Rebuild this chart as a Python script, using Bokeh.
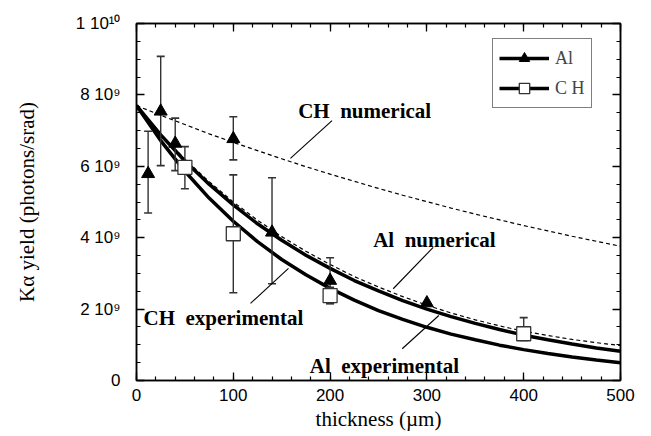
from bokeh.plotting import figure
from bokeh.models import (Range1d, LinearAxis, SingleIntervalTicker, FixedTicker,
                          Legend, LegendItem, ColumnDataSource, CustomLabelingPolicy)
from bokeh.core.properties import value
from bokeh.embed import file_html
from bokeh.resources import INLINE

# ---------------- data (yield in units of 1e9 photons/srad) ----------------
curve_x = [0, 25, 50, 75, 100, 125, 150, 175, 200, 225, 250,
           275, 300, 325, 350, 375, 400, 425, 450, 475, 500]
al_experimental = [7.70, 6.88, 6.15, 5.50, 4.92, 4.39, 3.93, 3.51, 3.14, 2.80, 2.51,
                   2.24, 2.00, 1.79, 1.60, 1.43, 1.27, 1.14, 1.02, 0.91, 0.82]
ch_experimental = [7.70, 6.72, 5.86, 5.11, 4.46, 3.89, 3.39, 2.96, 2.58, 2.25, 1.96,
                   1.71, 1.49, 1.30, 1.14, 0.99, 0.865, 0.755, 0.66, 0.575, 0.50]
al_numerical = [7.70, 6.91, 6.20, 5.57, 5.00, 4.49, 4.03, 3.62, 3.25, 2.91, 2.62,
                2.35, 2.11, 1.89, 1.70, 1.53, 1.38, 1.26, 1.15, 1.06, 0.98]
ch_numerical = [7.70, 7.43, 7.17, 6.91, 6.67, 6.44, 6.21, 5.99, 5.78, 5.58, 5.38,
                5.19, 5.01, 4.83, 4.66, 4.50, 4.34, 4.19, 4.04, 3.90, 3.76]

al_x = [12, 25, 40, 100, 140, 200, 300]
al_y = [5.79, 7.54, 6.64, 6.77, 4.15, 2.80, 2.17]
al_hi = [6.98, 9.08, 7.35, 7.39, 5.68, 3.44, 2.17]
al_lo = [4.69, 6.02, 5.88, 6.18, 2.71, 2.16, 2.17]

ch_x = [50, 100, 200, 400]
ch_y = [5.97, 4.11, 2.38, 1.31]
ch_hi = [6.55, 5.76, 2.61, 1.76]
ch_lo = [5.37, 2.46, 2.15, 1.12]

y_ticks = [0, 2, 4, 6, 8, 10]
y_tick_labels = ["0", "2 10\u2079", "4 10\u2079", "6 10\u2079", "8 10\u2079", "1 10\u00b9\u2070"]

labels_text = ["CH\u00a0\u00a0numerical", "Al\u00a0\u00a0numerical",
               "Al\u00a0\u00a0experimental", "CH\u00a0\u00a0experimental"]
labels_x = [167, 244.5, 179, 7.2]
labels_y = [7.56, 3.94, 0.42, 1.76]
pointer_x0 = [202, 306.5, 274.5, 117.8]
pointer_y0 = [7.28, 3.73, 0.89, 2.16]
pointer_x1 = [159, 265.2, 312.3, 157]
pointer_y1 = [6.22, 2.57, 1.82, 3.14]

# ---------------- figure ----------------
SANS = "Liberation Sans"
SERIF = "Liberation Serif"

W, H = 651, 436
p = figure(width=W, height=H, output_backend="svg", toolbar_location=None,
           x_range=Range1d(0, 500), y_range=Range1d(0, 10),
           min_border_left=136, min_border_right=W - 620, min_border_top=23,
           min_border_bottom=H - 380,
           x_axis_label="thickness (\u00b5m)", y_axis_label="K\u03b1 yield (photons/srad)")
p.background_fill_color = "white"
p.border_fill_color = "white"
p.outline_line_color = "black"
p.outline_line_width = 1.5
p.xgrid.visible = False
p.ygrid.visible = False

x_ticker = SingleIntervalTicker(interval=100, num_minor_ticks=5)
y_ticker = FixedTicker(ticks=y_ticks, minor_ticks=[i * 0.5 for i in range(21)])


def style_axis(ax, show_labels=True):
    ax.axis_line_color = "black"
    ax.axis_line_width = 1.5
    ax.major_tick_in = 8
    ax.major_tick_out = 0
    ax.minor_tick_in = 4
    ax.minor_tick_out = 0
    ax.major_tick_line_width = 1.3
    ax.minor_tick_line_width = 1.2
    ax.major_label_text_font = SANS
    ax.major_label_text_font_size = "17px"
    ax.major_label_text_color = "black"
    ax.axis_label_text_font = SERIF
    ax.axis_label_text_font_style = "normal"
    ax.axis_label_text_font_size = "21px"
    ax.axis_label_text_color = "black"
    if not show_labels:
        ax.major_label_policy = CustomLabelingPolicy(code="return []")
        ax.major_label_standoff = 0


xa = p.xaxis[0]
xa.ticker = x_ticker
style_axis(xa)
xa.major_label_standoff = 8
xa.axis_label_standoff = 3

ya = p.yaxis[0]
ya.ticker = y_ticker
style_axis(ya)
ya.major_label_overrides = dict(zip(y_ticks, y_tick_labels))
ya.major_label_standoff = 16
ya.axis_label_standoff = 34

top = LinearAxis(ticker=x_ticker)
style_axis(top, False)
p.add_layout(top, "above")
right = LinearAxis(ticker=y_ticker)
style_axis(right, False)
p.add_layout(right, "right")

# curves
p.line(curve_x, ch_numerical, line_color="black", line_width=1.2, line_dash="4 3")
p.line(curve_x, al_numerical, line_color="black", line_width=1.2, line_dash="4 3")
al_line = p.line(curve_x, al_experimental, line_color="black", line_width=3.5)
ch_line = p.line(curve_x, ch_experimental, line_color="black", line_width=3.5)


# error bars (only where visible)
def err_src(xs, lo, hi):
    idx = [i for i in range(len(xs)) if hi[i] != lo[i]]
    return ColumnDataSource(dict(x=[xs[i] for i in idx], lo=[lo[i] for i in idx],
                                 hi=[hi[i] for i in idx]))


for src in (err_src(al_x, al_lo, al_hi), err_src(ch_x, ch_lo, ch_hi)):
    p.segment(x0="x", y0="lo", x1="x", y1="hi", source=src, line_color="#333333", line_width=1.4)
    p.scatter(x="x", y="hi", source=src, marker="dash", size=8, line_color="#333333", line_width=1.6)
    p.scatter(x="x", y="lo", source=src, marker="dash", size=8, line_color="#333333", line_width=1.6)

al_pts = p.scatter(al_x, al_y, marker="triangle", size=13, fill_color="black", line_color="black")
ch_pts = p.scatter(ch_x, ch_y, marker="square", size=14, fill_color="white",
                   line_color="#333333", line_width=1.3)

# annotation labels and pointers
p.segment(x0=pointer_x0, y0=pointer_y0, x1=pointer_x1, y1=pointer_y1,
          line_color="black", line_width=1.1)
p.text(x=labels_x, y=labels_y, text=labels_text, text_font=value(SERIF),
       text_font_style="bold", text_font_size="21px", text_color="black",
       text_baseline="alphabetic", text_align="left")

legend = Legend(items=[LegendItem(label="Al", renderers=[al_line, al_pts]),
                       LegendItem(label="C H", renderers=[ch_line, ch_pts])],
                location=(356, 272))
legend.border_line_color = "black"
legend.border_line_width = 1.3
legend.background_fill_color = "white"
legend.background_fill_alpha = 1.0
legend.label_text_font = SERIF
legend.label_text_font_size = "18px"
legend.glyph_width = 50
legend.glyph_height = 26
legend.padding = 6
legend.spacing = 4
legend.label_standoff = 6
legend.margin = 0
p.add_layout(legend)

open("out.html", "w").write(file_html(p, INLINE))
